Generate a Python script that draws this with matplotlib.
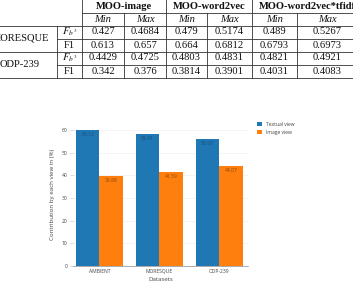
import matplotlib
matplotlib.use("Agg")
import matplotlib.pyplot as plt
import numpy as np

# ---------------- data ----------------
methods = ["MOO-image", "MOO-word2vec", "MOO-word2vec*tfidf"]
subcols = ["Min", "Max"]
datasets_tab = ["MORESQUE", "ODP-239"]
metrics = [r"$F_{b^3}$", "F1"]
table_vals = [
    ["0.427", "0.4684", "0.479", "0.5174", "0.489", "0.5267"],
    ["0.613", "0.657", "0.664", "0.6812", "0.6793", "0.6973"],
    ["0.4429", "0.4725", "0.4803", "0.4831", "0.4821", "0.4921"],
    ["0.342", "0.376", "0.3814", "0.3901", "0.4031", "0.4083"],
]

categories = ["AMBIENT", "MORESQUE", "ODP-239"]
textual = [60.12, 58.41, 55.93]
image = [39.88, 41.59, 44.07]
series_names = ["Textual view", "Image view"]
yticks = [0, 10, 20, 30, 40, 50, 60]

W, H = 353, 283
fig = plt.figure(figsize=(W / 100, H / 100), dpi=100)
plt.rcParams["mathtext.fontset"] = "stix"

# ---------------- table (pixel coordinates) ----------------
ax0 = fig.add_axes([0, 0, 1, 1])
ax0.set_xlim(0, W)
ax0.set_ylim(H, 0)
ax0.axis("off")

serif = "Liberation Serif"
fs = 7.6
lc = "#333333"
lw = 0.6

col_edges = [82, 124, 166, 207, 252, 297, 357]
header_spans = [(82, 166), (166, 252), (252, 357)]
row_y = [32, 45, 58, 71]

# horizontal lines
for y, x0 in [(13, 82), (25.5, 0), (38.5, 57), (51.5, 0), (64.5, 57), (77.5, 0)]:
    ax0.plot([x0, W], [y, y], color=lc, lw=lw)
# vertical lines
ax0.plot([57, 57], [25.5, 77.5], color=lc, lw=lw)
for x in [82, 166, 252]:
    ax0.plot([x, x], [0, 77.5], color=lc, lw=lw)
for x in [124, 207, 297]:
    ax0.plot([x, x], [13, 77.5], color=lc, lw=lw)

# headers
for (a, b), name in zip(header_spans, methods):
    if name == methods[-1]:
        ax0.text(259, 6.5, name, ha="left", va="center", family=serif,
                 fontsize=fs, fontweight="bold", color="#111")
    else:
        ax0.text((a + b) / 2, 6.5, name, ha="center", va="center", family=serif,
                 fontsize=fs, fontweight="bold", color="#111")
centers = [(col_edges[i] + col_edges[i + 1]) / 2 for i in range(6)]
centers[-1] = 327
for i, cx in enumerate(centers):
    ax0.text(cx, 19.5, subcols[i % 2], ha="center", va="center", family=serif,
             fontsize=fs, style="italic", color="#111")

# row labels
for j, ds in enumerate(datasets_tab):
    ax0.text(20, (row_y[2 * j] + row_y[2 * j + 1]) / 2, ds, ha="center", va="center",
             family=serif, fontsize=fs, color="#111")
for r in range(4):
    ax0.text(69.5, row_y[r], metrics[r % 2], ha="center", va="center",
             family=serif, fontsize=fs, color="#111")
    for c in range(6):
        ax0.text(centers[c], row_y[r], table_vals[r][c], ha="center", va="center",
                 family=serif, fontsize=fs, color="#111")

# ---------------- bar chart ----------------
left, right, bottom, top = 73, 248, 266, 122
ax = fig.add_axes([left / W, (H - bottom) / H, (right - left) / W, (bottom - top) / H])
x = np.arange(len(categories))
bw = 0.39
blue, orange = "#1f77b4", "#ff7f0e"
b1 = ax.bar(x - bw / 2, textual, bw, color=blue, label=series_names[0], zorder=3)
b2 = ax.bar(x + bw / 2, image, bw, color=orange, label=series_names[1], zorder=3)

sans = "Open Sans"
tfs = 3.6
for bars, vals, col in [(b1, textual, "#1b4d73"), (b2, image, "#8a4a10")]:
    for rect, v in zip(bars, vals):
        ax.text(rect.get_x() + rect.get_width() / 2, v - 1.0, f"{v:.2f}",
                ha="center", va="top", fontsize=tfs, color=col, family=sans, zorder=4)

ax.set_xlim(-0.44, 2.48)
ax.set_ylim(0, 63.5)
ax.set_yticks(yticks)
ax.set_xticks(x)
ax.set_xticklabels(categories)
ax.tick_params(axis="both", labelsize=tfs, colors="#444", length=0, pad=2)
ax.tick_params(axis="y", length=2, color="#bbbbbb", width=0.4)
for lab in ax.get_xticklabels() + ax.get_yticklabels():
    lab.set_family(sans)
ax.grid(axis="y", color="#eeeeee", lw=0.5, zorder=0)
for s in ["top", "right", "left"]:
    ax.spines[s].set_visible(False)
ax.spines["bottom"].set_color("#888888")
ax.spines["bottom"].set_linewidth(0.5)
ax.set_xlabel("Datasets", fontsize=4.4, color="#444", family=sans, labelpad=2)
ax.set_ylabel("Contribution by each view in (%)", fontsize=4.4, color="#444",
              family=sans, labelpad=5)

leg = ax.legend(loc="upper left", bbox_to_anchor=(255 / W, 1 - 120 / H),
                bbox_transform=fig.transFigure, frameon=False, fontsize=3.6,
                handlelength=0.9, handleheight=0.9, handletextpad=0.8,
                labelspacing=0.6, borderaxespad=0)
for t in leg.get_texts():
    t.set_color("#444")
    t.set_family(sans)

fig.savefig("out.png", dpi=100)
